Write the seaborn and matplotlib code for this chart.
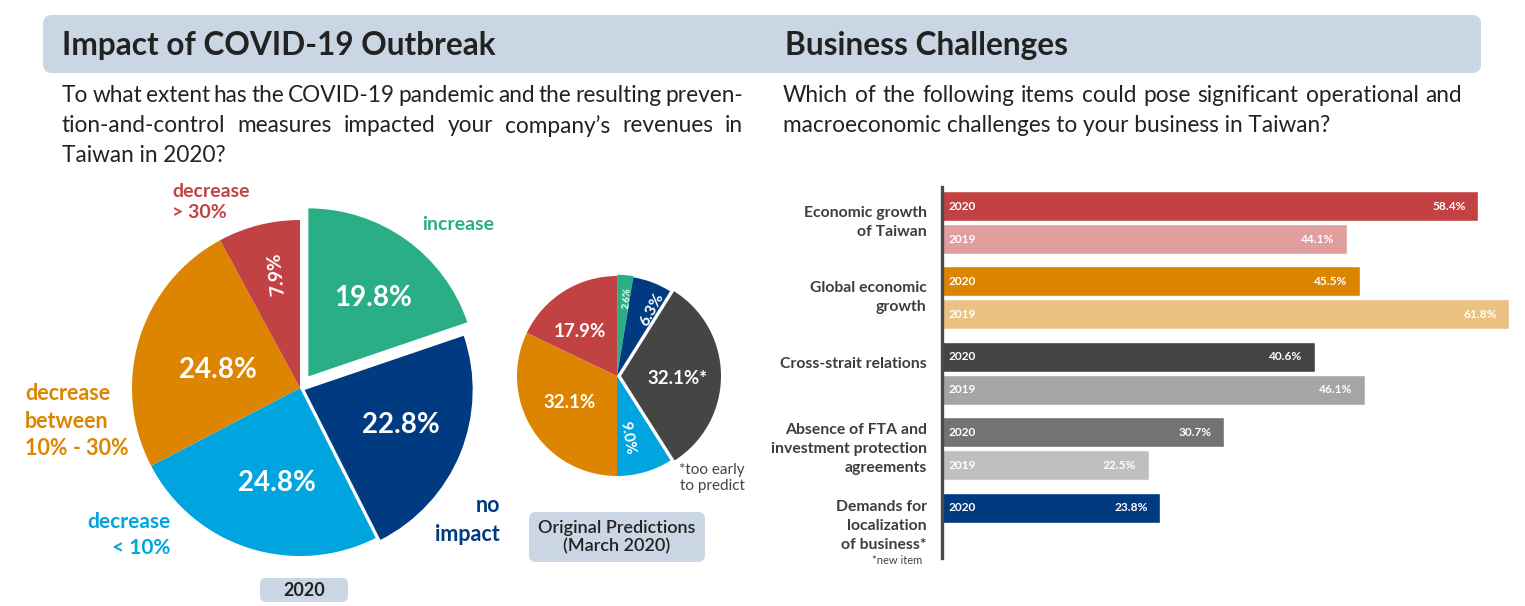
import numpy as np
import pandas as pd
import seaborn as sns
import matplotlib.pyplot as plt
from matplotlib.patches import FancyBboxPatch

W, H = 1525, 606

# ---- data ----
pie20_labels = ["increase", "no impact", "decrease < 10%", "decrease 10% - 30%", "decrease > 30%"]
pie20_values = [19.8, 22.8, 24.8, 24.8, 7.9]

pie_mar_labels = ["increase", "no impact", "too early to predict", "decrease < 10%", "decrease 10% - 30%", "decrease > 30%"]
pie_mar_values = [2.6, 6.3, 32.1, 9.0, 32.1, 17.9]

challenges = ["Economic growth\nof Taiwan", "Global economic\ngrowth", "Cross-strait relations",
              "Absence of FTA and\ninvestment protection\nagreements", "Demands for\nlocalization\nof business*"]
share_2020 = [58.4, 45.5, 40.6, 30.7, 23.8]
share_2019 = [44.1, 61.8, 46.1, 22.5, None]

# ---- style ----
CAT_COL = {"increase": "#2aae86", "no impact": "#003a80", "decrease < 10%": "#00a5e0",
           "decrease 10% - 30%": "#dd8500", "decrease > 30%": "#c24243", "too early to predict": "#454545"}
COL_2020 = ["#c24243", "#dd8500", "#454545", "#737373", "#003a80"]
COL_2019 = ["#e09e9f", "#ecc283", "#a5a5a5", "#bfbfbf"]
BOX = "#cbd6e4"
TXT = "#222222"
LBL = "#3d3d3d"

sns.set_theme(style="white")
plt.rcParams["font.family"] = ["Lato", "DejaVu Sans"]

fig = plt.figure(figsize=(W / 100, H / 100), dpi=100)


def px(x, y, w, h):
    # pixel rect (top-left origin) -> figure fraction
    return [x / W, (H - y - h) / H, w / W, h / H]


bg = fig.add_axes([0, 0, 1, 1])
bg.set_xlim(0, W)
bg.set_ylim(H, 0)
bg.axis("off")

bg.add_patch(FancyBboxPatch((43, 15), 1438, 58, boxstyle="round,pad=0,rounding_size=9", fc=BOX, ec="none"))
bg.add_patch(FancyBboxPatch((260, 578), 88, 24, boxstyle="round,pad=0,rounding_size=6", fc=BOX, ec="none"))
bg.add_patch(FancyBboxPatch((529, 512), 176, 50, boxstyle="round,pad=0,rounding_size=7", fc=BOX, ec="none"))

bg.text(62, 45, "Impact of COVID-19 Outbreak", fontsize=22.8, weight="bold", color=TXT, va="center")
bg.text(785, 45, "Business Challenges", fontsize=22.8, weight="bold", color=TXT, va="center")

renderer = fig.canvas.get_renderer()


def justify(line, x0, x1, y, **kw):
    words = line.split(" ")
    ts = [bg.text(0, y, w, va="center", **kw) for w in words]
    ws = [t.get_window_extent(renderer).width for t in ts]
    gap = (x1 - x0 - sum(ws)) / (len(words) - 1)
    x = x0
    for t, w in zip(ts, ws):
        t.set_x(x)
        x += w + gap


qkw = dict(fontsize=16.3, color=TXT)
justify("To what extent has the COVID-19 pandemic and the resulting preven-", 62, 743, 96, **qkw)
justify("tion-and-control measures impacted your company’s revenues in", 62, 743, 126, **qkw)
bg.text(62, 155, "Taiwan in 2020?", va="center", **qkw)
justify("Which of the following items could pose significant operational and", 783, 1462, 95, **qkw)
bg.text(783, 126, "macroeconomic challenges to your business in Taiwan?", va="center", **qkw)

# ---- big pie (2020) ----
R1 = 168
ax1 = fig.add_axes(px(300 - 1.25 * R1, 388 - 1.25 * R1, 2.5 * R1, 2.5 * R1))
ax1.pie(pie20_values, colors=[CAT_COL[c] for c in pie20_labels], startangle=90, counterclock=False,
        explode=[0.085, 0.03, 0, 0, 0], wedgeprops=dict(linewidth=0))
ax1.set_xlim(-1.25, 1.25)
ax1.set_ylim(-1.25, 1.25)
# label placement: (angle deg, distance, size, rotation)
lab1 = [(51, 0.69, 20, 0), (-20, 0.64, 20, 0), (-103.7, 0.58, 20, 0), (167.6, 0.50, 20, 0), (101.5, 0.69, 14, 96)]
for v, (a, d, s, r) in zip(pie20_values, lab1):
    t = np.deg2rad(a)
    ax1.text(d * np.cos(t), d * np.sin(t), f"{v:.1f}%", ha="center", va="center", color="white",
             fontsize=s, weight="bold", rotation=r)

# ---- small pie (March 2020) ----
R2 = 100
ax2 = fig.add_axes(px(617 - 1.25 * R2, 376 - 1.25 * R2, 2.5 * R2, 2.5 * R2))
ax2.pie(pie_mar_values, colors=[CAT_COL[c] for c in pie_mar_labels], startangle=90, counterclock=False,
        explode=[0.012, 0, 0.04, 0, 0, 0], wedgeprops=dict(linewidth=0))
ax2.set_xlim(-1.25, 1.25)
ax2.set_ylim(-1.25, 1.25)
lab2 = [(82.7, 0.79, 7, 85, ""), (62, 0.75, 11.5, 62, ""), (-2, 0.61, 13.5, 0, "*"),
        (-81, 0.63, 11, -80, ""), (209, 0.54, 13.5, 0, ""), (130, 0.575, 13.5, 0, "")]
for v, (a, d, s, r, suf) in zip(pie_mar_values, lab2):
    t = np.deg2rad(a)
    ax2.text(d * np.cos(t), d * np.sin(t), f"{v:.1f}%{suf}", ha="center", va="center", color="white",
             fontsize=s, weight="bold", rotation=r)

# pie category captions
ckw = dict(fontsize=14, weight="bold", linespacing=1.3)
bg.text(172, 202, "decrease\n> 30%", color=CAT_COL["decrease > 30%"], va="center", **ckw)
bg.text(494, 225, "increase", color=CAT_COL["increase"], va="center", ha="right", **ckw)
bg.text(25, 421, "decrease\nbetween\n10% - 30%", color=CAT_COL["decrease 10% - 30%"], va="center",
        fontsize=15.5, weight="bold", linespacing=1.4)
bg.text(170, 535, "decrease\n< 10%", color=CAT_COL["decrease < 10%"], va="center", ha="right",
        fontsize=15, weight="bold", linespacing=1.4)
bg.text(500, 520, "no\nimpact", color=CAT_COL["no impact"], va="center", ha="right",
        fontsize=15.5, weight="bold", linespacing=1.45)
bg.text(745, 478, "*too early\nto predict", color="#444444", va="center", ha="right", fontsize=11,
        linespacing=1.25)
bg.text(304, 590, "2020", ha="center", va="center", fontsize=13, weight="bold", color=TXT)
bg.text(617, 537, "Original Predictions\n(March 2020)", ha="center", va="center", fontsize=13,
        weight="semibold", color=TXT, linespacing=1.15)

# ---- bar chart ----
GROUP_STEP = 2.285
rows = []
for i, item in enumerate(challenges):
    for j, (yr, vals, cols) in enumerate([("2020", share_2020, COL_2020), ("2019", share_2019, COL_2019)]):
        if i < len(vals) and vals[i] is not None:
            rows.append(dict(item=item, year=yr, value=vals[i], pos=i * GROUP_STEP + j,
                             bar=f"{i}-{yr}", color=cols[i]))
df = pd.DataFrame(rows)

SCALE = 9.18  # px per percent
top_px, bot_px = 187, 558
ax3 = fig.add_axes(px(942, top_px, W - 942, bot_px - top_px))
sns.barplot(data=df, x="value", y="pos", hue="bar", palette=dict(zip(df["bar"], df["color"])),
            orient="h", native_scale=True, dodge=False, legend=False, width=0.91, saturation=1,
            errorbar=None, ax=ax3)
ax3.set_xlim(0, (W - 942) / SCALE)
top_u = -(206 - top_px) / 33
ax3.set_ylim(top_u + (bot_px - top_px) / 33, top_u)
for s in ["top", "right", "bottom"]:
    ax3.spines[s].set_visible(False)
ax3.spines["left"].set_color("#4a4a4a")
ax3.spines["left"].set_linewidth(2.4)
ax3.set_xticks([])
ax3.set_yticks([])
ax3.set_xlabel("")
ax3.set_ylabel("")
ax3.patch.set_alpha(0)

for _, r in df.iterrows():
    ax3.annotate(r["year"], (0, r["pos"]), xytext=(5, 0), textcoords="offset points", ha="left",
                 va="center", color="white", fontsize=8.6, weight="bold")
    ax3.annotate(f"{r['value']:.1f}%", (r["value"], r["pos"]), xytext=(-9, 0), textcoords="offset points",
                 ha="right", va="center", color="white", fontsize=8.6, weight="bold")

lab_shift = [0.5, 0.5, 0.22, 0.5, 0.55]
for i, item in enumerate(challenges):
    ax3.annotate(item, (0, i * GROUP_STEP + lab_shift[i]), xytext=(-11, 0), textcoords="offset points",
                 ha="right", va="center", color=LBL, fontsize=11.3, weight="bold", linespacing=1.45,
                 annotation_clip=False)
bg.text(922, 561, "*new item", ha="right", va="center", color="#444444", fontsize=8)

fig.savefig("out.png", dpi=100)
